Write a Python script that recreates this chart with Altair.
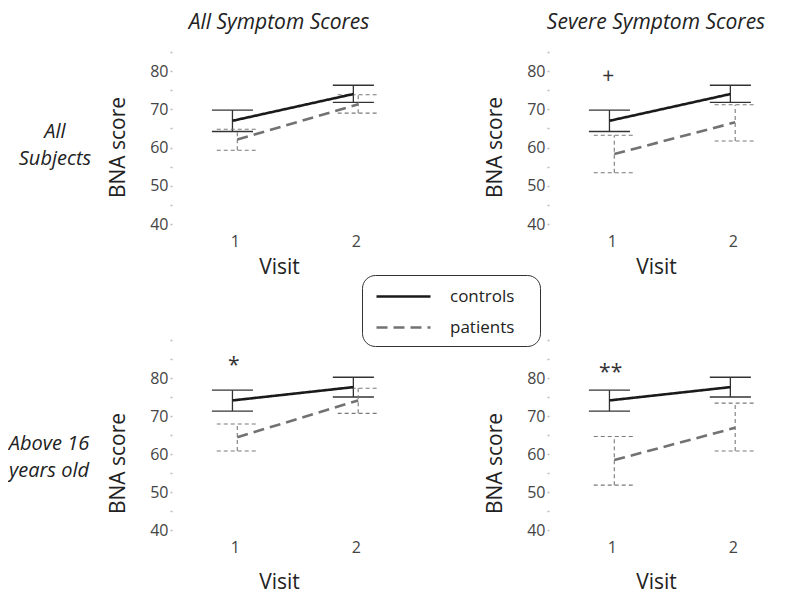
import altair as alt
import pandas as pd

visits = [1, 2]
groups = ["controls", "patients"]

# Top-left: All Subjects / All Symptom Scores
tl_ctrl_mean = [67.0, 74.0]
tl_ctrl_lo = [64.2, 71.8]
tl_ctrl_hi = [69.8, 76.3]
tl_pat_mean = [62.1, 71.3]
tl_pat_lo = [59.3, 69.0]
tl_pat_hi = [64.8, 73.8]

# Top-right: All Subjects / Severe Symptom Scores
tr_ctrl_mean = [67.0, 74.0]
tr_ctrl_lo = [64.2, 71.8]
tr_ctrl_hi = [69.8, 76.3]
tr_pat_mean = [58.3, 66.6]
tr_pat_lo = [53.4, 61.7]
tr_pat_hi = [63.2, 71.2]

# Bottom-left: Above 16 / All Symptom Scores
bl_ctrl_mean = [74.1, 77.6]
bl_ctrl_lo = [71.3, 75.0]
bl_ctrl_hi = [76.8, 80.2]
bl_pat_mean = [64.4, 74.1]
bl_pat_lo = [60.8, 70.7]
bl_pat_hi = [67.9, 77.3]

# Bottom-right: Above 16 / Severe Symptom Scores
br_ctrl_mean = [74.1, 77.6]
br_ctrl_lo = [71.3, 75.0]
br_ctrl_hi = [76.8, 80.2]
br_pat_mean = [58.4, 66.9]
br_pat_lo = [51.8, 60.8]
br_pat_hi = [64.6, 73.4]

# significance marks: (visit, y, text)
tr_marks = [(0.97, 78.4, "+")]
bl_marks = [(0.99, 83.1, "*")]
br_marks = [(0.99, 81.3, "**")]

col_titles = ["All Symptom Scores", "Severe Symptom Scores"]
row_titles = ["All\nSubjects", "Above 16\nyears old"]

FONT = "Open Sans"


def make_df(cm, clo, chi, pm, plo, phi):
    rows = []
    for g, m, lo, hi in [("controls", cm, clo, chi), ("patients", pm, plo, phi)]:
        for v, a, b, c in zip(visits, m, lo, hi):
            rows.append(dict(group=g, visit=v, mean=a, lo=b, hi=c))
    return pd.DataFrame(rows)


legend_kw = dict(
    title=".", titleOrient="right", titleColor="white", titleFontSize=8, titlePadding=13,
    orient="none", legendX=190, legendY=223,
    fillColor="white", strokeColor="#333", cornerRadius=13, padding=10,
    labelFontSize=17, labelFont=FONT, labelColor="#222",
    symbolType="M-0.7,0H4.7", symbolSize=400, symbolStrokeWidth=2.5,
    rowPadding=11, labelOffset=55,
)


def panel(df, ymax, height, title, marks, xtitle_pad, ytitle_y, row_label, row_x, row_y):
    xscale = alt.Scale(domain=[0.48, 2.25], nice=False, zero=False)
    yscale = alt.Scale(domain=[40, ymax], nice=False, zero=False)
    xaxis = alt.Axis(values=[1, 2], format="d", title="Visit", domain=False, ticks=False,
                     tickSize=0, grid=False, labelPadding=9, titlePadding=xtitle_pad,
                     labelFontSize=16, titleFontSize=21, labelColor="#444",
                     titleColor="#222", titleFontWeight="normal", labelFont=FONT, titleFont=FONT)
    yaxis = alt.Axis(values=list(range(40, ymax + 1, 5)),
                     labelExpr="datum.value % 10 == 0 && datum.value <= 80 ? datum.label : ''",
                     title="BNA score", domain=False, grid=False, tickSize=2,
                     tickColor="#bbb", tickWidth=1.5, labelPadding=2, titlePadding=21,
                     titleY=ytitle_y, labelFontSize=16, titleFontSize=21,
                     labelColor="#444", titleColor="#222", titleFontWeight="normal",
                     labelFont=FONT, titleFont=FONT)

    base = alt.Chart(df).transform_calculate(
        xc="datum.visit + (datum.group == 'controls' ? -0.02 : 0.02)"
    ).transform_calculate(
        xl="datum.xc - 0.17", xr="datum.xc + 0.17"
    )

    layers = []
    for g, col, dash, sw in [("controls", "#333", [1, 0], 1.3), ("patients", "#7a7a7a", [4, 3], 1.1)]:
        b = base.transform_filter(alt.datum.group == g)
        layers.append(b.mark_rule(color=col, strokeDash=dash, strokeWidth=sw).encode(
            x=alt.X("xc:Q", scale=xscale, axis=xaxis),
            y=alt.Y("lo:Q", scale=yscale, axis=yaxis), y2="hi:Q"))
        for f in ["lo", "hi"]:
            layers.append(b.mark_rule(color=col, strokeDash=dash, strokeWidth=sw).encode(
                x=alt.X("xl:Q", scale=xscale, axis=xaxis), x2="xr:Q",
                y=alt.Y(f"{f}:Q", scale=yscale, axis=yaxis)))

    layers.append(base.mark_line(strokeWidth=2.6).encode(
        x=alt.X("xc:Q", scale=xscale, axis=xaxis),
        y=alt.Y("mean:Q", scale=yscale, axis=yaxis),
        color=alt.Color("group:N", scale=alt.Scale(domain=groups, range=["#1a1a1a", "#727272"]),
                        legend=alt.Legend(**legend_kw)),
        strokeDash=alt.StrokeDash("group:N", scale=alt.Scale(domain=groups, range=[[1, 0], [11, 6]]),
                                  legend=alt.Legend(**legend_kw)),
    ))

    if marks:
        mdf = pd.DataFrame(marks, columns=["mx", "my", "mt"])
        layers.append(alt.Chart(mdf).mark_text(fontSize=21, color="#333", font=FONT,
                                               baseline="middle").encode(
            x=alt.X("mx:Q", scale=xscale, axis=xaxis),
            y=alt.Y("my:Q", scale=yscale, axis=yaxis),
            text="mt:N"))

    if row_label:
        rdf = pd.DataFrame({"rt": [row_label]})
        layers.append(alt.Chart(rdf).mark_text(fontSize=20, fontStyle="italic", font=FONT,
                                               color="#222", lineBreak="\n", lineHeight=27,
                                               align="center", baseline="middle").encode(
            text="rt:N", x=alt.value(row_x), y=alt.value(row_y)))

    return alt.layer(*layers).properties(
        width=214, height=height,
        title=alt.TitleParams(text=title, fontSize=21, font=FONT, fontStyle="italic",
                              fontWeight="normal", color="#222", anchor="middle", offset=18)
        if title else alt.TitleParams(text=""),
    )


tl = panel(make_df(tl_ctrl_mean, tl_ctrl_lo, tl_ctrl_hi, tl_pat_mean, tl_pat_lo, tl_pat_hi),
           85, 172, col_titles[0], None, 7, 95, row_titles[0], -117, 80)
tr = panel(make_df(tr_ctrl_mean, tr_ctrl_lo, tr_ctrl_hi, tr_pat_mean, tr_pat_lo, tr_pat_hi),
           85, 172, col_titles[1], tr_marks, 7, 95, None, 0, 0)
bl = panel(make_df(bl_ctrl_mean, bl_ctrl_lo, bl_ctrl_hi, bl_pat_mean, bl_pat_lo, bl_pat_hi),
           90, 190, None, bl_marks, 16, 123, row_titles[1], -123, 104)
br = panel(make_df(br_ctrl_mean, br_ctrl_lo, br_ctrl_hi, br_pat_mean, br_pat_lo, br_pat_hi),
           90, 190, None, br_marks, 16, 123, None, 0, 0)

chart = alt.concat(tl, tr, bl, br, columns=2, spacing={"row": 116, "column": 163},
                   bounds="flush", align="each").properties(
    padding={"left": 0, "right": 0, "top": 4, "bottom": 4}
).configure(font=FONT).configure_view(stroke=None)

chart.save("out.html", embed_options={"renderer": "svg", "actions": False})
